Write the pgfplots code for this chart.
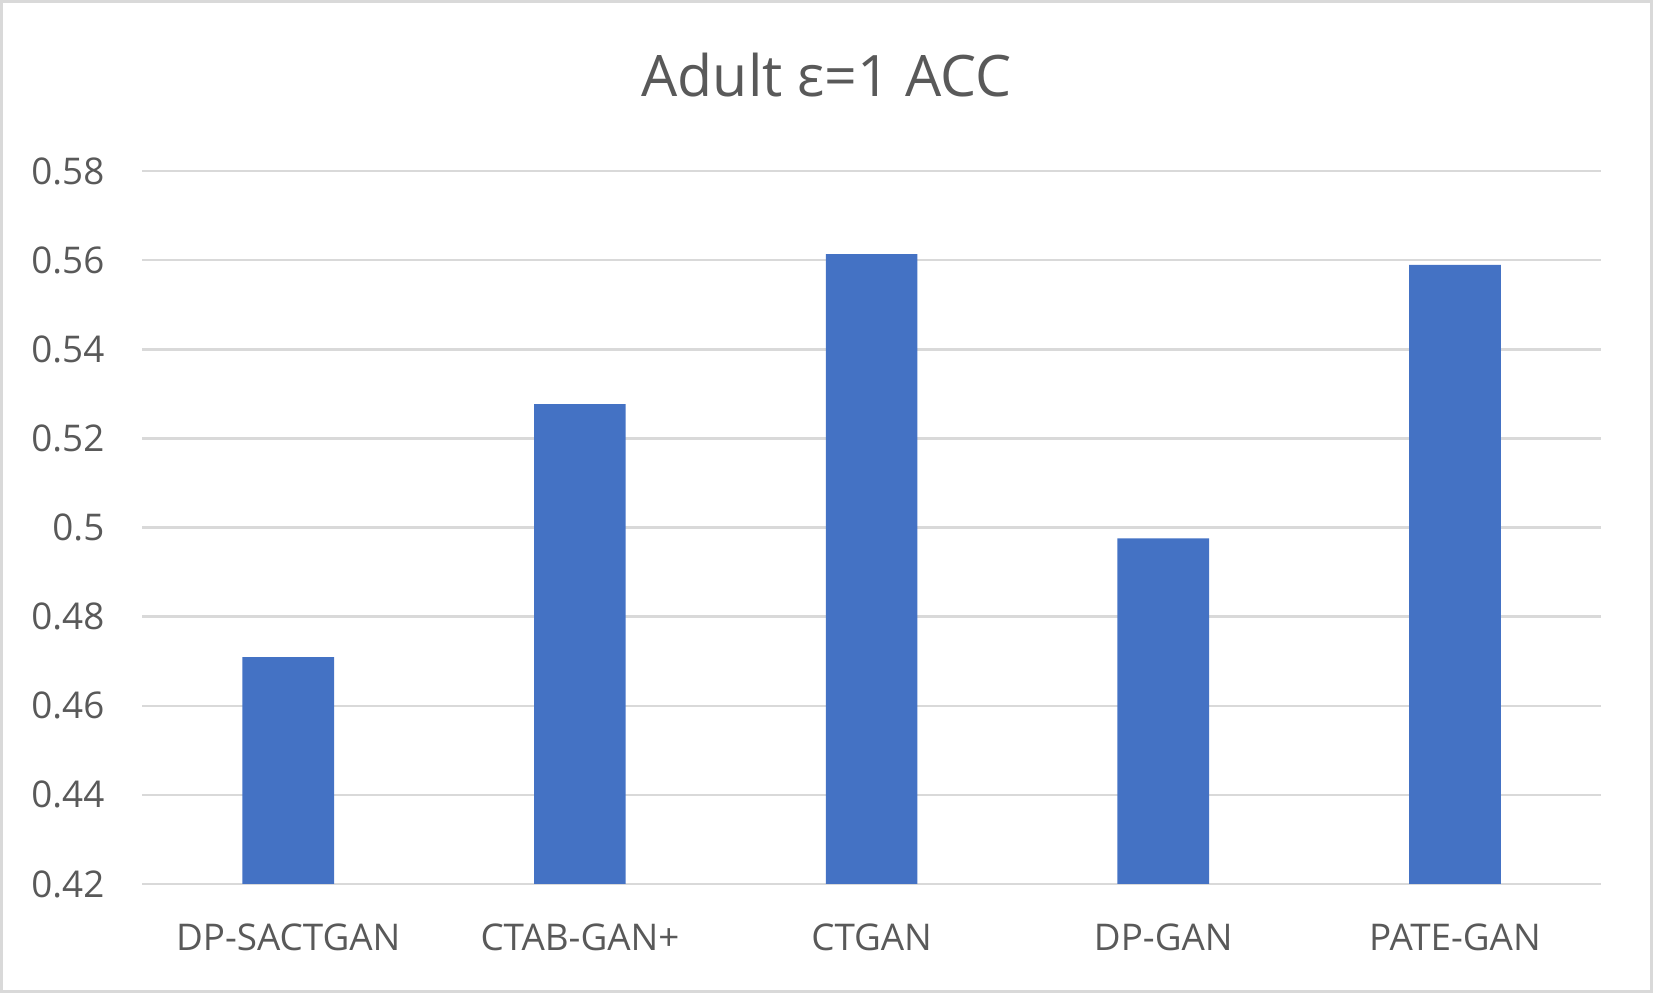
\documentclass[border=0pt]{standalone}
\usepackage{fontspec}
\setmainfont{Open Sans}
\usepackage{pgfplots}
\pgfplotsset{compat=1.18}
\definecolor{barblue}{HTML}{4472C4}
\definecolor{txtgray}{HTML}{595959}
\definecolor{gridgray}{HTML}{D9D9D9}
\begin{document}
\begin{tikzpicture}
\useasboundingbox (0,0) rectangle (413.25bp,248.25bp);
\draw[gridgray, line width=0.75bp] (0.375bp,0.375bp) rectangle (412.875bp,247.875bp);
\begin{axis}[
  at={(35.6bp,27.25bp)}, anchor=south west,
  scale only axis, width=364.6bp, height=178.2bp,
  ymin=0.42, ymax=0.58,
  ytick={0.42,0.44,0.46,0.48,0.50,0.52,0.54,0.56,0.58},
  yticklabels={0.42,0.44,0.46,0.48,0.5,0.52,0.54,0.56,0.58},
  xmin=-0.5, xmax=4.5,
  xtick={0,1,2,3,4},
  xticklabels={DP-SACTGAN,CTAB-GAN+,CTGAN,DP-GAN,PATE-GAN},
  axis line style={draw=none},
  major tick length=0pt,
  tick style={draw=none},
  ymajorgrids,
  major grid style={gridgray, line width=0.6bp},
  ticklabel style={text=txtgray, font=\fontsize{9.2bp}{11bp}\selectfont},
  yticklabel style={anchor=east, xshift=-6.0bp},
  xticklabel style={anchor=center, yshift=-13.25bp},
  ybar, bar width=22.9bp,
  clip=true,
]
\addplot[fill=barblue, draw=none] coordinates {
  (0,0.4709) (1,0.5277) (2,0.5614) (3,0.4976) (4,0.5590)
};
\end{axis}
\node[anchor=base, text=txtgray, font=\fontsize{14.3bp}{17bp}\selectfont, inner sep=0pt] at (206.6bp,224.1bp) {Adult ε=1 ACC};
\end{tikzpicture}
\end{document}
